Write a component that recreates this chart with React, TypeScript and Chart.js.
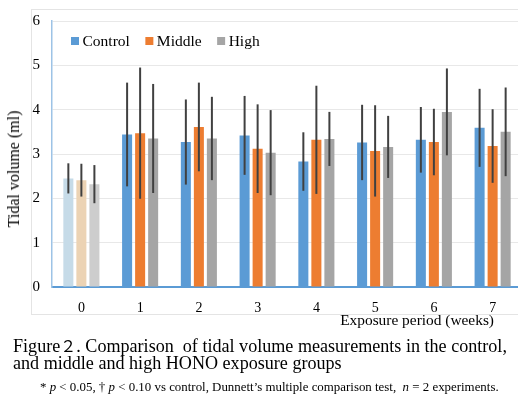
import React, { useEffect, useRef } from "react";
import { Chart, registerables } from "chart.js";

Chart.register(...registerables);

const weeks = ["0", "1", "2", "3", "4", "5", "6", "7"];
const seriesNames = ["Control", "Middle", "High"];
const controlMean = [2.45, 3.44, 3.27, 3.42, 2.83, 3.26, 3.32, 3.59];
const controlSD = [0.34, 1.17, 0.96, 0.89, 0.66, 0.85, 0.74, 0.88];
const middleMean = [2.41, 3.47, 3.61, 3.12, 3.32, 3.07, 3.27, 3.18];
const middleSD = [0.37, 1.48, 1.0, 1.0, 1.22, 1.03, 0.75, 0.83];
const highMean = [2.32, 3.35, 3.35, 3.03, 3.34, 3.16, 3.95, 3.5];
const highSD = [0.43, 1.23, 0.94, 0.96, 0.61, 0.7, 0.98, 1.0];
const yTicks = [0, 1, 2, 3, 4, 5, 6];

const mainColors = ["#5b9bd5", "#ed7d31", "#a5a5a5"];
const baselineColors = ["#c6dbe8", "#ecd3b4", "#cdcdcd"];
const SERIF = "'Liberation Serif', 'DejaVu Serif', serif";

const errorBarPlugin = {
  id: "errorBars",
  afterDatasetsDraw(chart: any) {
    const sds = [controlSD, middleSD, highSD];
    const means = [controlMean, middleMean, highMean];
    const y = chart.scales.y;
    const ctx = chart.ctx;
    ctx.save();
    ctx.strokeStyle = "#404040";
    ctx.lineWidth = 2;
    chart.data.datasets.forEach((_: any, i: number) => {
      const meta = chart.getDatasetMeta(i);
      meta.data.forEach((el: any, j: number) => {
        const top = y.getPixelForValue(means[i][j] + sds[i][j]);
        const bot = y.getPixelForValue(means[i][j] - sds[i][j]);
        ctx.beginPath();
        ctx.moveTo(el.x, top);
        ctx.lineTo(el.x, bot);
        ctx.stroke();
      });
    });
    ctx.restore();
  },
};

const insideLegendPlugin = {
  id: "insideLegend",
  afterDraw(chart: any) {
    const ctx = chart.ctx;
    const area = chart.chartArea;
    ctx.save();
    ctx.font = `15.5px ${SERIF}`;
    ctx.textBaseline = "alphabetic";
    let x = area.left + 19;
    const boxTop = area.top + 16;
    const baseline = area.top + 24.5;
    chart.data.datasets.forEach((ds: any, i: number) => {
      ctx.fillStyle = mainColors[i];
      ctx.fillRect(x, boxTop, 8, 8);
      x += 11.5;
      ctx.fillStyle = "#000";
      ctx.fillText(ds.label, x, baseline);
      x += ctx.measureText(ds.label).width + 15.5;
    });
    ctx.restore();
  },
};

export default function App() {
  const ref = useRef<HTMLCanvasElement | null>(null);
  useEffect(() => {
    if (!ref.current) return;
    const means = [controlMean, middleMean, highMean];
    const chart = new Chart(ref.current, {
      type: "bar",
      data: {
        labels: weeks,
        datasets: seriesNames.map((name, i) => ({
          label: name,
          data: means[i],
          backgroundColor: weeks.map((_, j) => (j === 0 ? baselineColors[i] : mainColors[i])),
          borderWidth: 0,
          barPercentage: 0.77,
          categoryPercentage: 0.665,
        })),
      },
      options: {
        responsive: false,
        animation: false,
        layout: { padding: { top: 17, left: 0, right: 0, bottom: 0 } },
        plugins: {
          tooltip: { enabled: false },
          legend: { display: false },
        },
        scales: {
          x: {
            grid: { display: false, drawTicks: false },
            border: { color: "#5b9bd5", width: 2 },
            ticks: { color: "#000", font: { family: SERIF, size: 14 }, padding: 13 },
            afterFit: (s: any) => {
              s.height = 33;
            },
          },
          y: {
            min: 0,
            max: 6,
            afterBuildTicks: (s: any) => {
              s.ticks = yTicks.map((v) => ({ value: v }));
            },
            grid: { color: "#e8e8e8", lineWidth: 1, drawTicks: false },
            border: { color: "#9dc3e6", width: 1.5 },
            ticks: { color: "#000", font: { family: SERIF, size: 15 }, padding: 12 },
            afterFit: (s: any) => {
              s.width = 52;
            },
          },
        },
      },
      plugins: [errorBarPlugin, insideLegendPlugin],
    });
    return () => chart.destroy();
  }, []);

  const textBase: React.CSSProperties = {
    position: "absolute",
    fontFamily: SERIF,
    color: "#000",
    whiteSpace: "nowrap",
    lineHeight: 1,
  };

  return (
    <div
      style={{
        position: "fixed",
        left: 0,
        top: 0,
        width: 518,
        height: 396,
        overflow: "hidden",
        background: "#fff",
      }}
    >
      <div
        style={{
          position: "absolute",
          left: 31,
          top: 9,
          width: 500,
          height: 304,
          border: "1px solid #e4e4e4",
        }}
      />
      <canvas ref={ref} width={522} height={320} style={{ position: "absolute", left: 0, top: 0 }} />
      <div
        style={{
          ...textBase,
          fontSize: 16,
          left: 14,
          top: 169,
          transform: "translate(-50%, -50%) rotate(-90deg)",
        }}
      >
        Tidal volume (ml)
      </div>
      <div style={{ ...textBase, fontSize: 15.4, right: 518 - 494, top: 312 }}>Exposure period (weeks)</div>
      <div style={{ ...textBase, fontSize: 18.1, left: 13, top: 337, lineHeight: "16.5px" }}>
        Figure<span style={{ fontFamily: "'Noto Sans CJK JP', sans-serif", fontSize: 16 }}>２</span>. Comparison&nbsp; of
        tidal volume measurements in the control,
        <br />
        and middle and high HONO exposure groups
      </div>
      <div style={{ ...textBase, fontSize: 12.9, left: 40, top: 381 }}>
        * <i>p</i> &lt; 0.05, † <i>p</i> &lt; 0.10 vs control, Dunnett’s multiple comparison test,&nbsp; <i>n</i> = 2
        experiments.
      </div>
    </div>
  );
}
